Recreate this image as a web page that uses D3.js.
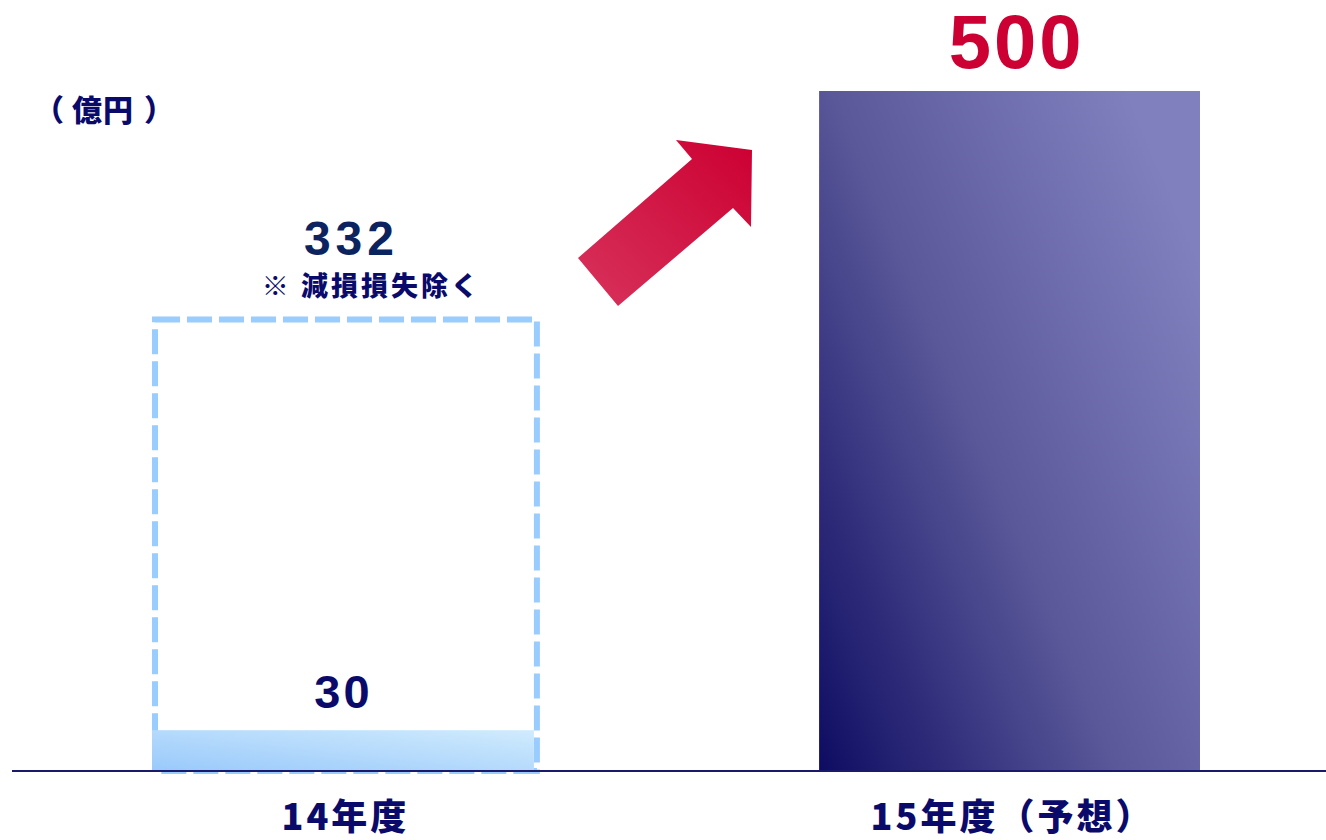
<!DOCTYPE html>
<html lang="ja">
<head>
<meta charset="utf-8">
<script src="https://cdn.jsdelivr.net/npm/d3@7"></script>
<style>
  html, body { margin: 0; padding: 0; background: #fff; }
  svg { display: block; }
  text { font-family: "Liberation Sans", Arial, "Noto Sans CJK JP", sans-serif; }
  .jp { font-family: "Noto Sans CJK JP", sans-serif; font-weight: 900; }
</style>
</head>
<body>
<svg id="chart" width="1326" height="840"></svg>
<script>
// 年度別の数値（億円）
const categories = ["14年度", "15年度（予想）"];
const actualValues = [30, 500];        // 実績・予想
const excludingLossValue = 332;         // 減損損失を除いた場合（14年度）
const excludingLossNote = "※ 減損損失除く";
const unitParts = ["（", "億円", "）"];

const svg = d3.select("#chart");
const W = 1326, H = 840;
const baseY = 771;

const x = d3.scaleBand()
  .domain(categories)
  .range([152, 1202])
  .paddingInner(0.426)
  .paddingOuter(0);

const y = d3.scaleLinear()
  .domain([0, 500])
  .range([baseY, 91]);

const defs = svg.append("defs");

const gLight = defs.append("linearGradient")
  .attr("id", "gLight").attr("x1", "0").attr("y1", "1").attr("x2", "1").attr("y2", "0");
gLight.append("stop").attr("offset", "0").attr("stop-color", "#99c9fb");
gLight.append("stop").attr("offset", "1").attr("stop-color", "#d0ebfd");

const gDark = defs.append("linearGradient")
  .attr("id", "gDark").attr("gradientUnits", "objectBoundingBox")
  .attr("x1", "0").attr("y1", "1").attr("x2", "1").attr("y2", "0.25");
gDark.append("stop").attr("offset", "0").attr("stop-color", "#0e0c62");
gDark.append("stop").attr("offset", "0.5").attr("stop-color", "#5a5899");
gDark.append("stop").attr("offset", "1").attr("stop-color", "#8180bf");

const gArrow = defs.append("linearGradient")
  .attr("id", "gArrow").attr("x1", "0").attr("y1", "1").attr("x2", "1").attr("y2", "0");
gArrow.append("stop").attr("offset", "0").attr("stop-color", "#d7335c");
gArrow.append("stop").attr("offset", "1").attr("stop-color", "#cc0032");

// 14年度：減損損失を除いた場合の点線枠
const bx0 = x(categories[0]);
svg.append("rect")
  .attr("x", bx0 + 3)
  .attr("y", y(excludingLossValue))
  .attr("width", x.bandwidth() - 1)
  .attr("height", baseY - y(excludingLossValue))
  .attr("fill", "none")
  .attr("stroke", "#99ccff")
  .attr("stroke-width", 6)
  .attr("stroke-dasharray", "25 7");

// 実績・予想の棒
svg.selectAll("rect.bar")
  .data(categories.map((c, i) => ({ c, v: actualValues[i], i })))
  .join("rect")
  .attr("class", "bar")
  .attr("x", d => x(d.c))
  .attr("y", d => y(d.v))
  .attr("width", d => x.bandwidth() - (d.i === 0 ? 1 : 2))
  .attr("height", d => baseY - y(d.v))
  .attr("fill", d => d.i === 0 ? "url(#gLight)" : "url(#gDark)");

// 基線
svg.append("line")
  .attr("x1", 12).attr("x2", W)
  .attr("y1", baseY).attr("y2", baseY)
  .attr("stroke", "#1b1a6a").attr("stroke-width", 2);

// 増加を示す矢印
const arrowPts = [
  [578, 258], [618, 306], [733, 208], [751, 227],
  [752, 150], [676, 140], [692, 159]
];
svg.append("polygon")
  .attr("points", arrowPts.map(p => p.join(",")).join(" "))
  .attr("fill", "url(#gArrow)");

// 単位
const unit = svg.append("text")
  .attr("class", "jp")
  .attr("x", 34).attr("y", 121)
  .attr("font-size", 30)
  .attr("fill", "#0a0a6b");
unit.selectAll("tspan")
  .data(unitParts)
  .join("tspan")
  .attr("dx", (d, i) => [0, 8, 10][i])
  .attr("letter-spacing", (d, i) => i === 1 ? 1 : 0)
  .text(d => d);

// 減損損失除く値
const c0 = x(categories[0]) + x.bandwidth() / 2;
svg.append("text")
  .attr("x", c0 + 8).attr("y", 255)
  .attr("text-anchor", "middle")
  .attr("font-size", 48)
  .attr("font-weight", 700)
  .attr("letter-spacing", 5)
  .attr("fill", "#0b2460")
  .text(excludingLossValue);

svg.append("text")
  .attr("class", "jp")
  .attr("x", c0 + 28).attr("y", 296)
  .attr("text-anchor", "middle")
  .attr("font-size", 27)
  .attr("letter-spacing", 3)
  .attr("fill", "#0a0a6b")
  .text(excludingLossNote);

// 値ラベル
svg.append("text")
  .attr("x", c0).attr("y", y(actualValues[0]) - 22)
  .attr("text-anchor", "middle")
  .attr("font-size", 47)
  .attr("font-weight", 700)
  .attr("letter-spacing", 3)
  .attr("fill", "#0a0a6b")
  .text(actualValues[0]);

const c1 = x(categories[1]) + x.bandwidth() / 2;
svg.append("text")
  .attr("x", c1 + 6).attr("y", y(actualValues[1]) - 23)
  .attr("text-anchor", "middle")
  .attr("font-size", 76)
  .attr("font-weight", 700)
  .attr("letter-spacing", 3)
  .attr("fill", "#cc0033")
  .text(actualValues[1]);

// 年度ラベル
svg.selectAll("text.cat")
  .data(categories)
  .join("text")
  .attr("class", "cat jp")
  .attr("x", d => x(d) + x.bandwidth() / 2 + 2)
  .attr("y", 830)
  .attr("text-anchor", "middle")
  .attr("font-size", 36)
  .attr("letter-spacing", 3)
  .attr("fill", "#0a0a6b")
  .text(d => d);
</script>
</body>
</html>
